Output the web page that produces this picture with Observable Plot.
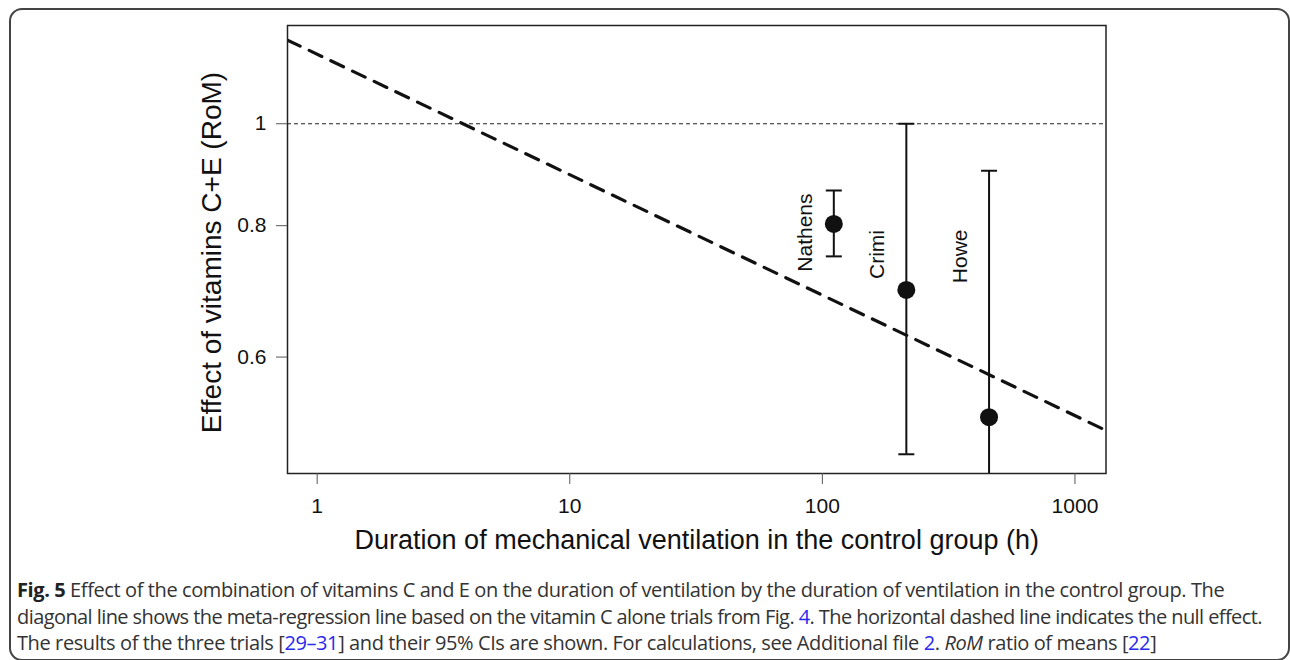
<!DOCTYPE html>
<html>
<head>
<meta charset="utf-8">
<script src="https://cdn.jsdelivr.net/npm/d3@7"></script>
<script src="https://cdn.jsdelivr.net/npm/@observablehq/plot@0.6"></script>
<style>
  html, body { margin: 0; padding: 0; background: #fff; }
  #wrap { position: relative; width: 1290px; height: 660px; overflow: hidden; }
  #border { position: absolute; left: 9px; top: 8px; width: 1281px; height: 653px; border: 2px solid #444; border-radius: 13px; box-sizing: border-box; }
  #chart { position: absolute; left: 0; top: 0; }
  #caption { position: absolute; left: 17px; top: 577px; width: 1265px; font-family: "Open Sans", sans-serif; font-size: 20px; line-height: 26.5px; color: #333; letter-spacing: -0.4px; white-space: nowrap; }
  #caption a { color: #2a2aee; text-decoration: none; }
  #caption .l2 { letter-spacing: -0.58px; }
</style>
</head>
<body>
<div id="wrap">
  <div id="border"></div>
  <div id="chart"></div>
  <div id="caption"><b style="color:#222">Fig. 5</b> Effect of the combination of vitamins C and E on the duration of ventilation by the duration of ventilation in the control group. The<br><span class="l2">diagonal line shows the meta-regression line based on the vitamin C alone trials from Fig. <a>4</a>. The horizontal dashed line indicates the null effect.</span><br>The results of the three trials [<a>29–31</a>] and their 95% CIs are shown. For calculations, see Additional file <a>2</a>. <i>RoM</i> ratio of means [<a>22</a>]</div>
</div>
<script>
// Trials
const studies  = ["Nathens", "Crimi", "Howe"];
const duration = [111, 215, 457];          // control-group ventilation (h)
const rom      = [0.803, 0.695, 0.526];    // ratio of means
const ciLow    = [0.748, 0.485, 0.30];
const ciHigh   = [0.864, 1.0, 0.902];
const labelY   = [0.788, 0.751, 0.748];    // label anchors (RoM units)

// Meta-regression line (vitamin C alone trials)
const regX = [0.763, 1327];
const regY = [1.201, 0.511];

// Axis ticks
const xTicks = [1, 10, 100, 1000];
const yTicks = [0.6, 0.8, 1];

const trials = studies.map((s, i) => ({study: s, x: duration[i], y: rom[i], lo: ciLow[i], hi: ciHigh[i], ly: labelY[i]}));
const reg = regX.map((x, i) => ({x, y: regY[i]}));

const capSymbol = {
  draw(ctx, size) {
    const r = Math.sqrt(size / Math.PI);
    ctx.moveTo(-r, 0);
    ctx.lineTo(r, 0);
  }
};

const font = "Liberation Sans, Arial, Helvetica, sans-serif";

const chart = Plot.plot({
  width: 1290,
  height: 570,
  marginLeft: 287,
  marginRight: 184.5,
  marginTop: 25,
  marginBottom: 97,
  style: {fontFamily: font, color: "#111", background: "transparent"},
  x: {type: "log", domain: [0.763, 1327]},
  y: {type: "log", domain: [0.465, 1.24]},
  marks: [
    Plot.ruleY([1], {stroke: "#222", strokeWidth: 1, strokeDasharray: "4,3"}),
    Plot.line(reg, {x: "x", y: "y", stroke: "#111", strokeWidth: 3.2, strokeDasharray: "14,10", clip: true}),
    Plot.ruleX(trials, {x: "x", y1: "lo", y2: "hi", stroke: "#111", strokeWidth: 2, clip: true}),
    Plot.dot(trials, {x: "x", y: "hi", symbol: capSymbol, r: 8, stroke: "#111", strokeWidth: 2, clip: true}),
    Plot.dot(trials, {x: "x", y: "lo", symbol: capSymbol, r: 8, stroke: "#111", strokeWidth: 2, clip: true}),
    Plot.dot(trials, {x: "x", y: "y", r: 9, fill: "#111", stroke: null}),
    Plot.text(trials, {x: "x", y: "ly", text: "study", rotate: -90, dx: -29, fontSize: 21, fill: "#111"}),
    Plot.frame({stroke: "#222", strokeWidth: 1.5}),
    Plot.axisX({ticks: xTicks, tickFormat: d => String(d), tickSize: 11, tickPadding: 14, fontSize: 21, stroke: "#555", fill: "#111", label: null}),
    Plot.axisY({ticks: yTicks, tickFormat: d => String(d), tickSize: 11, tickPadding: 10, fontSize: 21, stroke: "#555", fill: "#111", label: null}),
    Plot.text(["Duration of mechanical ventilation in the control group (h)"], {frameAnchor: "bottom", dy: 75, fontSize: 27, fill: "#111"}),
    Plot.text(["Effect of vitamins C+E (RoM)"], {frameAnchor: "left", textAnchor: "middle", dx: -75, dy: 3, rotate: -90, fontSize: 28, fill: "#111"})
  ]
});
document.getElementById("chart").appendChild(chart);
</script>
</body>
</html>
